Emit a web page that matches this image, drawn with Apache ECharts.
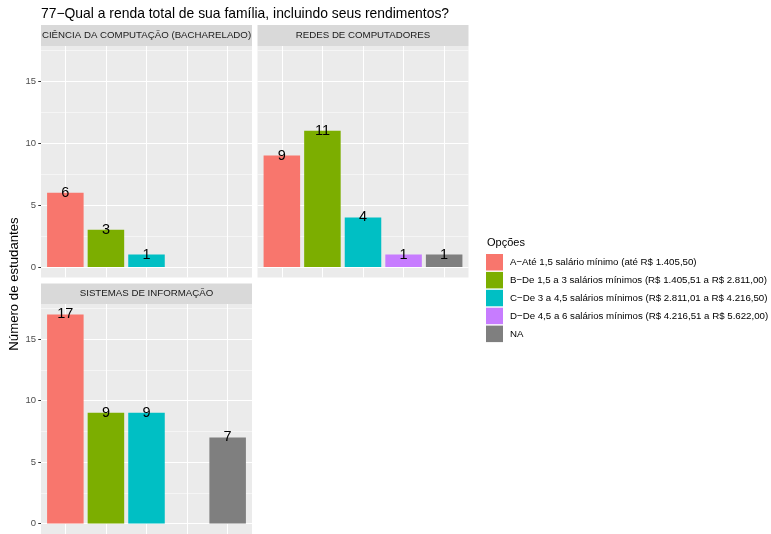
<!DOCTYPE html>
<html><head><meta charset="utf-8">
<script src="https://cdn.jsdelivr.net/npm/echarts@6/dist/echarts.min.js"></script>
<style>html,body{margin:0;padding:0;background:#fff}#chart{width:771px;height:534px}</style>
</head><body><div id="chart"></div>
<script>
const chartTitle = '77−Qual a renda total de sua família, incluindo seus rendimentos?';
const yTitle = 'Número de estudantes';
const legendTitle = 'Opções';
const categories = [
  'A−Até 1,5 salário mínimo (até R$ 1.405,50)',
  'B−De 1,5 a 3 salários mínimos (R$ 1.405,51 a R$ 2.811,00)',
  'C−De 3 a 4,5 salários mínimos (R$ 2.811,01 a R$ 4.216,50)',
  'D−De 4,5 a 6 salários mínimos (R$ 4.216,51 a R$ 5.622,00)',
  'NA'
];
const xPositions = [1, 2, 3, 4, 5];
const panelNames = ['CIÊNCIA DA COMPUTAÇÃO (BACHARELADO)', 'REDES DE COMPUTADORES', 'SISTEMAS DE INFORMAÇÃO'];
const cienciaValues = [6, 3, 1, null, null];
const redesValues = [9, 11, 4, 1, 1];
const sistemasValues = [17, 9, 9, null, 7];
const yTicks = [0, 5, 10, 15];

const colors = ['#F8766D', '#7CAE00', '#00BFC4', '#C77CFF', '#7F7F7F'];
const panelValues = [cienciaValues, redesValues, sistemasValues];
const FONT = '"Liberation Sans", Arial, Helvetica, sans-serif';
const grids = [
  {left: 41, top: 46, width: 211, height: 231.5},
  {left: 257.5, top: 46, width: 211, height: 231.5},
  {left: 41, top: 304, width: 211, height: 231.5}
];
const strips = [{top: 25, height: 21}, {top: 25, height: 21}, {top: 283.5, height: 20.5}];
const X_MIN = 0.4, X_MAX = 5.6, Y_MIN = -0.85, Y_MAX = 17.85;
const barW = 211 / (X_MAX - X_MIN) * 0.9;

const xAxes = grids.map((g, i) => ({
  type: 'value', gridIndex: i, min: X_MIN, max: X_MAX, splitNumber: 5, minInterval: 1, maxInterval: 1,
  axisLine: {show: false, onZero: false},
  axisTick: {show: i === 2, customValues: xPositions, length: 2.75, lineStyle: {color: '#333333', width: 1}},
  axisLabel: {show: false},
  splitLine: {show: true, lineStyle: {color: '#FFFFFF', width: 1.07}}
}));
const yAxes = grids.map((g, i) => ({
  type: 'value', gridIndex: i, min: Y_MIN, max: Y_MAX, splitNumber: 4, minInterval: 5, maxInterval: 5,
  axisLine: {show: false, onZero: false},
  axisTick: {show: i !== 1, customValues: yTicks, length: 2.75, lineStyle: {color: '#333333', width: 1}},
  axisLabel: {show: i !== 1, customValues: yTicks, fontSize: 9.5, color: '#4D4D4D', margin: 5, fontFamily: FONT},
  splitLine: {show: true, lineStyle: {color: '#FFFFFF', width: 1.07}},
  minorTick: {show: false, splitNumber: 2},
  minorSplitLine: {show: true, lineStyle: {color: '#FFFFFF', width: 0.53}}
}));

const series = [];
panelValues.forEach((vals, p) => {
  categories.forEach((cat, c) => {
    series.push({
      type: 'bar', name: cat, xAxisIndex: p, yAxisIndex: p,
      barWidth: barW, barGap: '-100%',
      itemStyle: {color: colors[c]},
      data: vals[c] == null ? [] : [[xPositions[c], vals[c]]],
      label: {
        show: true, position: ['50%', 0], align: 'center', verticalAlign: 'middle',
        fontSize: 14.5, color: '#000000', fontFamily: FONT,
        formatter: (prm) => String(prm.value[1])
      },
      emphasis: {disabled: true}
    });
  });
});

const graphics = [];
grids.forEach((g, i) => {
  graphics.push({type: 'rect', shape: {x: g.left, y: strips[i].top, width: g.width, height: strips[i].height},
    style: {fill: '#D9D9D9'}, silent: true});
  graphics.push({type: 'text', x: g.left + g.width / 2, y: strips[i].top + strips[i].height / 2,
    style: {text: panelNames[i], fontSize: 9.7, fill: '#1A1A1A', align: 'center', verticalAlign: 'middle', fontFamily: FONT}, silent: true});
});
graphics.push({type: 'text', x: 41, y: 14,
  style: {text: chartTitle, fontSize: 13.9, fill: '#000000', align: 'left', verticalAlign: 'middle', fontFamily: FONT}});
graphics.push({type: 'text', x: 14, y: 284, rotation: Math.PI / 2,
  style: {text: yTitle, fontSize: 13.2, fill: '#000000', align: 'center', verticalAlign: 'middle', fontFamily: FONT}});
graphics.push({type: 'text', x: 487, y: 243,
  style: {text: legendTitle, fontSize: 11, fill: '#000000', align: 'left', verticalAlign: 'middle', fontFamily: FONT}});

const option = {
  animation: false,
  backgroundColor: '#FFFFFF',
  textStyle: {fontFamily: FONT},
  grid: grids.map(g => ({left: g.left, top: g.top, width: g.width, height: g.height, show: true,
    backgroundColor: '#EBEBEB', borderWidth: 0, containLabel: false})),
  xAxis: xAxes,
  yAxis: yAxes,
  legend: {
    data: categories, orient: 'vertical', left: 486, top: 254, padding: 0,
    itemWidth: 17, itemHeight: 16.5, itemGap: 1.4, icon: 'rect', selectedMode: false,
    textStyle: {fontSize: 9.7, color: '#000000', fontFamily: FONT, padding: [0, 0, 0, 2]}
  },
  graphic: graphics,
  series: series
};
const chart = echarts.init(document.getElementById('chart'), null, {renderer: 'canvas'});
chart.setOption(option);
</script></body></html>
